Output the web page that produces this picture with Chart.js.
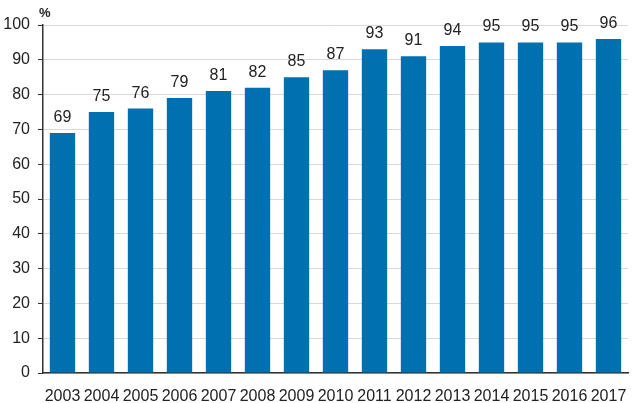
<!DOCTYPE html>
<html>
<head>
<meta charset="utf-8">
<script src="https://cdn.jsdelivr.net/npm/chart.js@4"></script>
<style>
  html, body { margin: 0; padding: 0; background: #fff; }
  #wrap { width: 633px; height: 403px; position: relative; }
</style>
</head>
<body>
<div id="wrap"><canvas id="myChart"></canvas></div>
<script>
// data
var years = ['2003','2004','2005','2006','2007','2008','2009','2010','2011','2012','2013','2014','2015','2016','2017']
var values = [69, 75, 76, 79, 81, 82, 85, 87, 93, 91, 94, 95, 95, 95, 96]
var yTicks = [0, 10, 20, 30, 40, 50, 60, 70, 80, 90, 100]

// value labels above bars + "%" unit
var barLabels = {
    id: 'barLabels',
    afterDatasetsDraw: function(chart){
        var ctx = chart.ctx
        var meta = chart.getDatasetMeta(0)
        ctx.save()
        ctx.font = '16px "Liberation Sans", Arial, sans-serif'
        ctx.fillStyle = '#222'
        ctx.textAlign = 'center'
        ctx.textBaseline = 'alphabetic'
        meta.data.forEach(function(bar, i){
            ctx.fillText(values[i], bar.x, bar.y - 11)
        })
        ctx.font = 'bold 13px "Liberation Sans", Arial, sans-serif'
        ctx.textAlign = 'left'
        ctx.fillText('%', chart.chartArea.left - 4, 17)
        ctx.restore()
    }
}

var ctx = document.getElementById('myChart').getContext('2d')
var chart1 = new Chart(ctx, {
    type: 'bar',
    plugins: [barLabels],
    data: {
        labels: years,
        datasets: [{
            data: values,
            backgroundColor: '#0070B0',
            categoryPercentage: 1,
            barPercentage: 0.65
        }]
    },
    options: {
        responsive: true,
        maintainAspectRatio: false,
        animation: false,
        layout: { padding: { left: 0, right: 5, top: 25, bottom: 0 } },
        plugins: {
            legend: { display: false },
            tooltip: { enabled: false }
        },
        scales: {
            x: {
                grid: { display: false },
                border: { display: true, color: '#333', width: 1.5 },
                ticks: {
                    color: '#222',
                    padding: 6,
                    maxRotation: 0,
                    autoSkip: false,
                    font: { family: '"Liberation Sans", Arial, sans-serif', size: 16 }
                },
                afterFit: function(s){ s.height = 30 }
            },
            y: {
                min: 0,
                max: 100,
                afterBuildTicks: function(s){
                    s.ticks = yTicks.map(function(v){ return { value: v } })
                },
                grid: {
                    color: '#d9d9d9',
                    tickColor: '#333',
                    tickLength: 5
                },
                border: { display: true, color: '#333', width: 1.5 },
                ticks: {
                    color: '#222',
                    padding: 8,
                    font: { family: '"Liberation Sans", Arial, sans-serif', size: 16 }
                },
                afterFit: function(s){ s.width = 43 }
            }
        }
    }
})
</script>
</body>
</html>
